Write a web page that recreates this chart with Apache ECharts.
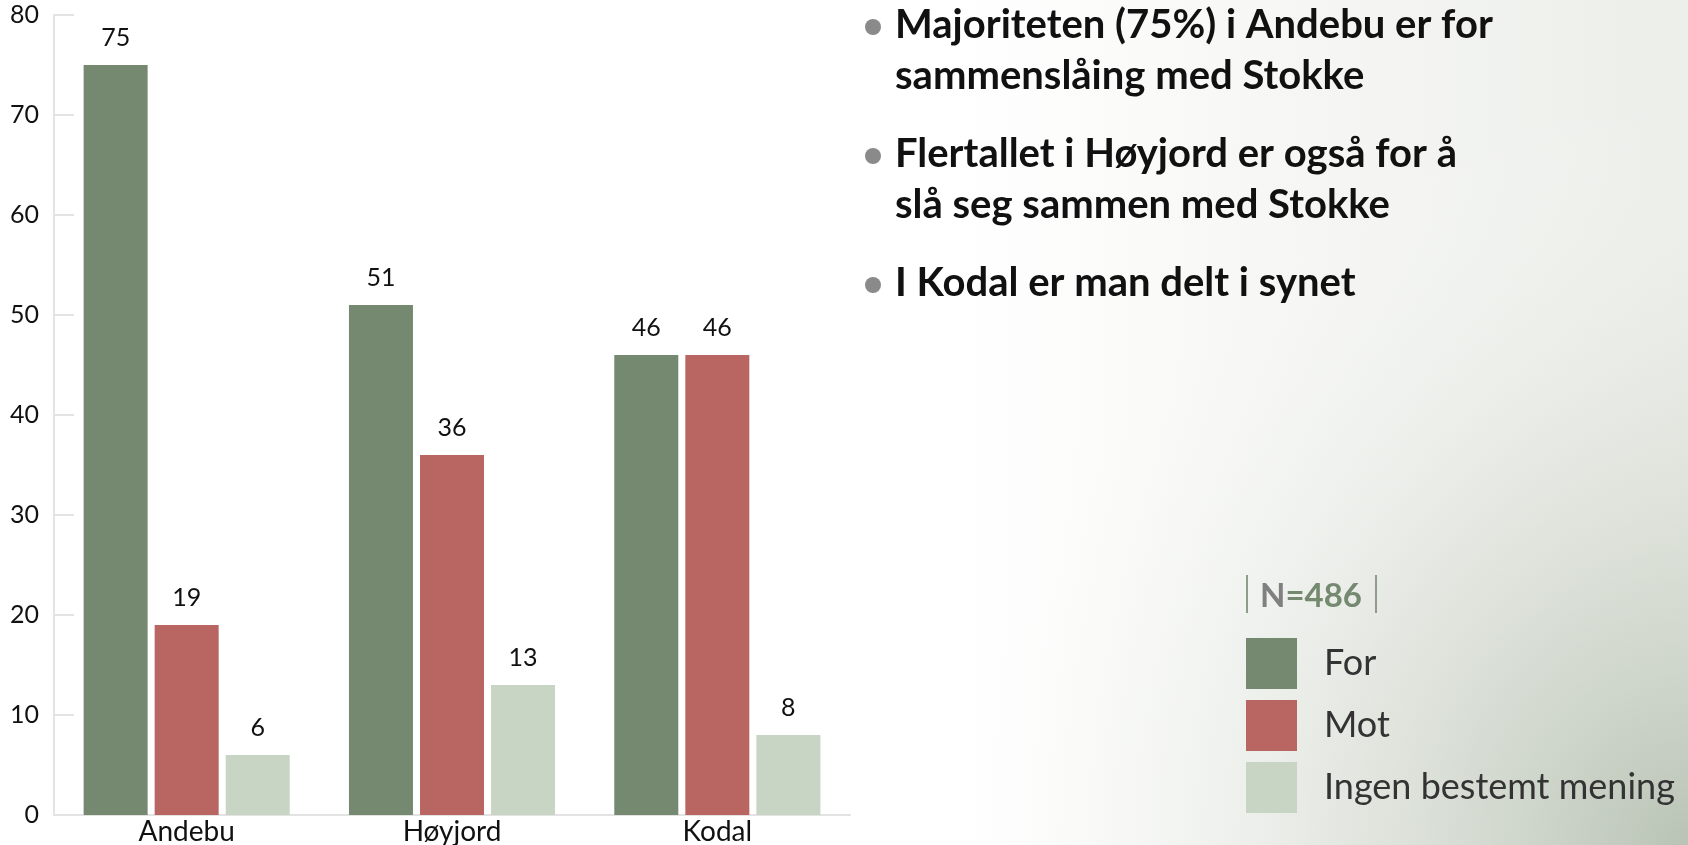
<!DOCTYPE html>
<html>
<head>
<meta charset="utf-8">
<script src="https://cdn.jsdelivr.net/npm/echarts@6/dist/echarts.min.js"></script>
<style>
    html, body { margin: 0; padding: 0; }
    #main { width: 1688px; height: 845px; }
</style>
</head>
<body>
<div id="main"></div>
<script>
const categories = ['Andebu', 'Høyjord', 'Kodal'];
const seriesNames = ['For', 'Mot', 'Ingen bestemt mening'];
const forValues = [75, 51, 46];
const motValues = [19, 36, 46];
const ingenValues = [6, 13, 8];
const yTicks = [0, 10, 20, 30, 40, 50, 60, 70, 80];
const bullets = [
    ['Majoriteten (75%) i Andebu er for', 'sammenslåing med Stokke'],
    ['Flertallet i Høyjord er også for å', 'slå seg sammen med Stokke'],
    ['I Kodal er man delt i synet']
];
const sampleSize = 486;

const colors = ['#748970', '#b96562', '#c8d4c4'];
const font = 'Lato';

const main = document.getElementById('main');
const chart = echarts.init(main);

let graphics = [];

// soft shade in the lower right corner
graphics.push({
    type: 'rect',
    z: -10,
    silent: true,
    shape: { x: 0, y: 0, width: 1688, height: 845 },
    style: {
        fill: {
            type: 'radial',
            x: 1688, y: 845, r: 760,
            global: true,
            colorStops: [
                { offset: 0, color: 'rgba(176,188,172,0.85)' },
                { offset: 0.45, color: 'rgba(200,208,196,0.4)' },
                { offset: 1, color: 'rgba(255,255,255,0)' }
            ]
        }
    }
});

// bullet texts on the right
let y = 25;
bullets.forEach(function (lines) {
    graphics.push({
        type: 'circle',
        shape: { cx: 873, cy: y + 2, r: 8 },
        style: { fill: '#8a8a8a' }
    });
    lines.forEach(function (line) {
        graphics.push({
            type: 'text',
            x: 895,
            y: y,
            style: {
                text: line,
                fontFamily: font,
                fontWeight: 'bold',
                fontSize: 40,
                fill: '#111',
                verticalAlign: 'middle'
            }
        });
        y += 51;
    });
    y += 27;
});

// N=486 box
graphics.push({
    type: 'line',
    shape: { x1: 1247, y1: 575, x2: 1247, y2: 613 },
    style: { stroke: '#8e9c8a', lineWidth: 2 }
});
graphics.push({
    type: 'line',
    shape: { x1: 1376, y1: 575, x2: 1376, y2: 613 },
    style: { stroke: '#8e9c8a', lineWidth: 2 }
});
graphics.push({
    type: 'text',
    x: 1260,
    y: 596,
    style: {
        text: '{n|N}{v|=' + sampleSize + '}',
        fontFamily: font,
        fontWeight: 'bold',
        fontSize: 33,
        verticalAlign: 'middle',
        rich: {
            n: { fill: '#808080', fontFamily: font, fontWeight: 'bold', fontSize: 33 },
            v: { fill: '#748970', fontFamily: font, fontWeight: 'bold', fontSize: 33 }
        }
    }
});

const barLabel = {
    show: true,
    position: 'top',
    distance: 15,
    fontFamily: font,
    fontSize: 25,
    color: '#111'
};

let option = {
    backgroundColor: {
        type: 'linear',
        x: 950, y: 0, x2: 1688, y2: 0,
        global: true,
        colorStops: [
            { offset: 0, color: '#ffffff' },
            { offset: 1, color: '#eceee9' }
        ]
    },
    textStyle: { fontFamily: font },
    animation: false,
    grid: {
        left: 54,
        right: 838,
        top: 15,
        bottom: 30,
        containLabel: false,
        outerBoundsMode: 'none'
    },
    legend: {
        data: seriesNames,
        orient: 'vertical',
        left: 1246,
        top: 638,
        icon: 'rect',
        itemWidth: 51,
        itemHeight: 51,
        itemGap: 11,
        padding: 0,
        textStyle: {
            fontFamily: font,
            fontSize: 36,
            color: '#333',
            padding: [0, 0, 0, 22]
        }
    },
    xAxis: {
        type: 'category',
        data: categories,
        axisLine: { lineStyle: { color: '#e3e3e3', width: 2 } },
        axisTick: { inside: true, length: 19, lineStyle: { color: '#e3e3e3', width: 2 } },
        axisLabel: { fontSize: 28, color: '#111', margin: 3, fontFamily: font }
    },
    yAxis: {
        type: 'value',
        min: yTicks[0],
        max: yTicks[yTicks.length - 1],
        interval: yTicks[1] - yTicks[0],
        splitLine: { show: false },
        axisLine: { show: true, lineStyle: { color: '#e3e3e3', width: 2 } },
        axisTick: { show: true, inside: true, length: 20, lineStyle: { color: '#e3e3e3', width: 2 } },
        axisLabel: { fontSize: 25, color: '#111', margin: 15, fontFamily: font }
    },
    series: [{
        name: seriesNames[0],
        type: 'bar',
        data: forValues,
        barWidth: 64,
        barGap: '11%',
        itemStyle: { color: colors[0] },
        label: barLabel
    }, {
        name: seriesNames[1],
        type: 'bar',
        data: motValues,
        barWidth: 64,
        barGap: '11%',
        itemStyle: { color: colors[1] },
        label: barLabel
    }, {
        name: seriesNames[2],
        type: 'bar',
        data: ingenValues,
        barWidth: 64,
        barGap: '11%',
        itemStyle: { color: colors[2] },
        label: barLabel
    }],
    graphic: graphics
};

if (option && typeof option === 'object') {
    chart.setOption(option);
}
</script>
</body>
</html>
